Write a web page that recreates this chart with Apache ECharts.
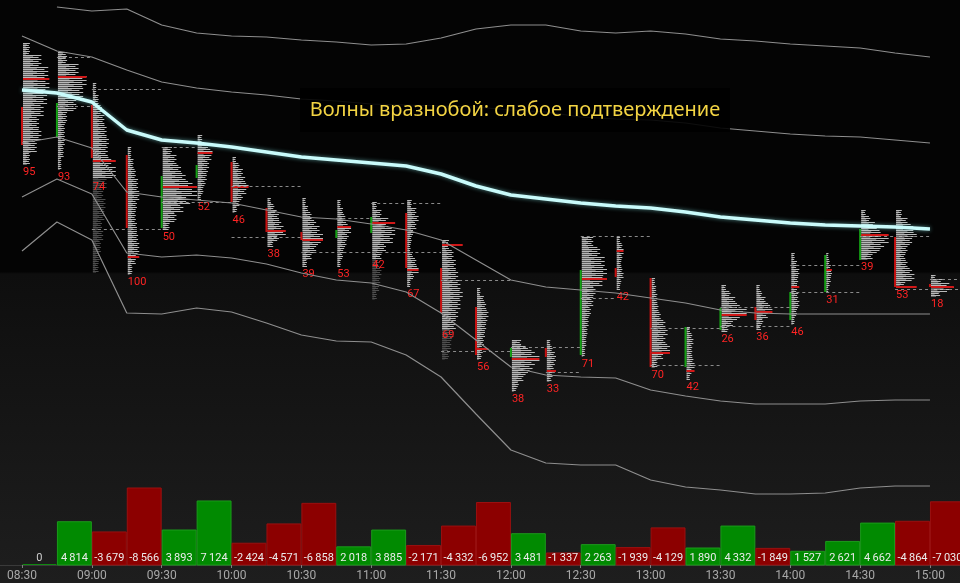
<!DOCTYPE html>
<html><head><meta charset="utf-8">
<script src="https://cdn.jsdelivr.net/npm/echarts@6/dist/echarts.min.js"></script>
<style>html,body{margin:0;padding:0;background:#000;}#c{width:960px;height:583px;}</style>
</head><body><div id="c"></div>
<script>
// ---------- DATA ----------
const slots = ['08:30','08:45','09:00','09:15','09:30','09:45','10:00','10:15','10:30','10:45','11:00','11:15','11:30','11:45','12:00','12:15','12:30','12:45','13:00','13:15','13:30','13:45','14:00','14:15','14:30','14:45','15:00'];
const timeTicks = ['08:30','09:00','09:30','10:00','10:30','11:00','11:30','12:00','12:30','13:00','13:30','14:00','14:30','15:00'];
const deltas = [0,4814,-3679,-8566,3893,7124,-2424,-4571,-6858,2018,3885,-2171,-4332,-6952,3481,-1337,2263,-1939,-4129,1890,4332,-1849,1527,2621,4662,-4864,-7030];

const vwap    = [5227.5,5226.75,5224.5,5217.5,5215,5214.25,5213.25,5212,5210.75,5210,5209.25,5208.5,5206.5,5203.5,5201.25,5200.25,5199.25,5198.5,5198,5197,5195.75,5195,5194.25,5193.75,5193.5,5193.25,5192.75];
const bandUp2 = [null,5248.25,5247.25,5247.75,5243.75,5241.75,5241,5240.75,5240,5239.5,5238.75,5239,5240.5,5242.75,5243.75,5243.75,5242.25,5241.75,5242.25,5241.5,5240.25,5239.75,5239,5238.5,5238,5236.75,5235.75];
const bandUp1 = [5241,5237.25,5235.75,5232.5,5229.5,5228,5227,5226.25,5225.25,5224.75,5224,5223.75,5223.5,5223.25,5222.5,5222,5220.75,5220.25,5220,5219.25,5218,5217.25,5216.5,5216,5215.75,5215,5214.25];
const bandDn1 = [5214.25,5215.75,5213,5202,5200.75,5200,5199.25,5197.5,5195.75,5195.25,5194,5192.5,5190,5185,5180,5178.25,5177.5,5176.75,5175.5,5174.25,5172.5,5171.75,5171.5,5171.5,5171.5,5171.5,5171.5];
const bandDn2 = [5200.75,5205.25,5201.5,5186.75,5185.75,5186.25,5185.5,5184,5181.75,5180,5179.25,5177,5171.75,5165,5158.25,5156.25,5155.75,5155.5,5152.5,5151,5149.75,5149,5149,5149,5149.75,5150,5150];
const bandDn3 = [5187.25,5194.5,5190,5171.75,5171.5,5173,5172,5169.25,5166.25,5164.75,5164.5,5161.25,5155.75,5146.5,5137.5,5134.25,5133.75,5133.75,5130,5128.25,5127.5,5126.5,5126.5,5126.75,5128,5128.5,5128.5];

const profHigh   = [5239.25,5237,5229.25,5213.25,5213.25,5216.25,5210.75,5200.5,5200.5,5200,5199.5,5200,5190,5178,5165,5165,5190.75,5190.75,5180.5,5168.25,5178.75,5178.75,5186.75,5186.75,5197.5,5197.5,5181.25];
const profLow    = [5208.75,5207.5,5205,5181.25,5192.5,5200,5196.75,5188.25,5183.25,5183.25,5185.5,5178.25,5168,5160,5152,5154.5,5160.75,5177.5,5158,5155,5167,5167.5,5168.75,5176.75,5185,5178,5175.75];
const profBottom = [null,null,5181.75,null,null,null,null,null,null,null,5175,null,5160,null,null,null,null,null,null,null,null,null,null,null,null,null,null];
const profPoc    = [5230.25,5230.75,5209.75,5185.75,5203.25,5211.75,5203.25,5192.25,5190,5193.25,5194.25,5182.5,5188.75,5162.75,5160.25,5157.25,5180.25,5187.25,5161.75,5157.25,5171.25,5172,5178.25,5182.5,5191.25,5178.25,5178.25];
const profOpen   = [5223.25,5215.75,5223.75,5211.25,5193,5205.5,5209.5,5198,5192,5190.5,5191.75,5196.75,5183,5173.25,5160.75,5163,5161.25,5183,5180.5,5158.25,5167.5,5173.25,5170,5177,5185,5190.75,5179];
const profClose  = [5213.75,5224.25,5210.5,5193,5206,5208.75,5199.5,5192,5190,5192.5,5195.75,5183,5171.75,5161.25,5163,5160.75,5182.5,5180.75,5158.25,5168.25,5173,5170,5177,5186.25,5192.75,5178.25,5178.25];
const profCount  = [95,93,74,100,50,52,46,38,39,53,42,67,69,56,38,33,71,42,70,42,26,36,46,31,39,53,18];
const profVols = [
 [6,16,22,23,21,18,14,16,12,6],
 [8,18,25,22,16,8,6,6,5,3],
 [3,5,8,10,12,14,13,16,20,12,9,11,10,8,9,7,6,5],
 [3,5,7,9,10,8,7,8,9,10,7,4],
 [8,12,16,20,26,30,24,18,12,6],
 [4,9,13,12,10,9,8,7,5,3],
 [3,6,9,11,14,12,9,6,4],
 [3,6,8,10,12,14,16,10,5],
 [3,5,8,12,15,18,16,12,8,4],
 [3,5,7,9,12,10,8,6,5,3],
 [4,8,14,20,18,12,8,6,8,7,6,4],
 [4,8,10,8,6,4,3,5,8,10,6,3],
 [6,10,12,14,16,18,16,14,12,10,8,6],
 [3,6,8,10,9,8,7,6,5,4],
 [8,14,20,24,20,18,14,10,6,4],
 [3,5,7,8,7,6,5,4],
 [10,16,20,22,18,12,10,8,6,5,4,3],
 [3,5,6,5,4,5,6,4,3],
 [3,4,5,6,8,12,14,12,16,10,5],
 [3,5,6,5,5,6,7,5,3],
 [4,8,12,16,22,16,10,6],
 [3,5,8,12,14,10,6,4],
 [3,5,7,6,5,6,7,5,3],
 [2,3,4,5,4,3,2],
 [4,8,12,16,20,24,20,16,10],
 [5,10,15,18,14,10,8,10,14,16,8],
 [4,10,16,20,14,8]
];
const vaLines = [
 [5235.75,'08:45','09:00'],[5223.5,'08:45','09:00'],[5227.75,'09:00','09:30'],[5192.75,'09:00','09:30'],
 [5213.25,'09:30','09:45'],[5199.5,'09:30','10:00'],[5203.5,'10:00','10:30'],[5190.75,'10:00','10:30'],
 [5187,'10:30','11:30'],[5195.5,'10:45','11:00'],[5199.25,'11:00','11:30'],[5180,'11:30','12:00'],
 [5162.25,'11:30','12:00'],[5163.25,'12:00','12:30'],[5157,'12:15','12:30'],[5191,'12:30','13:00'],
 [5175.5,'12:30','12:45'],[5168,'13:00','13:30'],[5158.75,'13:00','13:30'],[5173.25,'13:30','14:00'],
 [5168.5,'13:30','14:00'],[5183.75,'14:00','14:30'],[5177,'14:00','14:30'],[5191,'14:30','15:00'],
 [5177.75,'14:45','15:15'],[5180.25,'15:00','15:15']
];
const titleText = 'Волны вразнобой: слабое подтверждение';

// ---------- HELPERS ----------
function toMin(s){const p=s.split(':');return (+p[0])*60+(+p[1])-510;}
const SLOT = 15;
const XMIN = -9.45, XMAX = 402.9;
const tickMins = timeTicks.map(toMin);
function fmtNum(d){
  const s = String(Math.abs(d)).replace(/\B(?=(\d{3})+(?!\d))/g,'\u2009');
  return (d<0?'-':'')+s;
}
function lineData(arr){return slots.map((s,i)=>[toMin(s),arr[i]]);}

const chart = echarts.init(document.getElementById('c'));
const VOL_SCALE = 1.15/35;

function renderProfile(params, api){
  const i = api.value(3);
  const t0 = toMin(slots[i]);
  const vols = profVols[i];
  const hi = profHigh[i], lo = profLow[i];
  const bot = profBottom[i]==null ? lo : profBottom[i];
  const n = vols.length;
  const rowH = (hi-bot)/n;
  const x0 = api.coord([t0,hi])[0];
  const slotPx = api.coord([t0+SLOT,hi])[0]-x0;
  const children = [];
  let stripe = 0;
  for(let k=0;k<n;k++){
    const pTop = hi-k*rowH, pBot = hi-(k+1)*rowH;
    const yTop = api.coord([t0,pTop])[1], yBot = api.coord([t0,pBot])[1];
    const w = vols[k]*VOL_SCALE*slotPx;
    const dim = (pTop+pBot)/2 < lo;
    for(let y=Math.round(yTop); y<Math.round(yBot); y++){
      const m = stripe%4;
      const f = m===0?1:(m===1?0.55:(m===2?0.85:0.4));
      let col;
      if(dim) col = (m%2===0)?'#4e4e4e':'#2c2c2c';
      else col = (m%2===0)?'#b9b9b9':'#5e5e5e';
      children.push({type:'rect',shape:{x:x0+1,y:y,width:Math.max(1,w*f),height:1},style:{fill:col}});
      stripe++;
    }
  }
  const maxV = Math.max.apply(null,vols);
  const yPoc = api.coord([t0,profPoc[i]])[1];
  children.push({type:'rect',shape:{x:x0+1,y:yPoc-1,width:maxV*VOL_SCALE*slotPx,height:2},style:{fill:'#d01818'}});
  const yo = api.coord([t0,profOpen[i]])[1], yc = api.coord([t0,profClose[i]])[1];
  const up = profClose[i] > profOpen[i];
  children.push({type:'rect',shape:{x:x0-1,y:Math.min(yo,yc),width:2,height:Math.max(1,Math.abs(yo-yc))},style:{fill:up?'#14a014':'#c81010'}});
  const yl = api.coord([t0,lo])[1];
  children.push({type:'text',x:x0+1,y:yl+2,style:{text:String(profCount[i]),fill:'#ff2424',font:'11px Roboto, "DejaVu Sans", sans-serif',align:'left',verticalAlign:'top'}});
  return {type:'group',children};
}

function renderVA(params, api){
  const p = api.value(0), a = api.value(1), b = api.value(2);
  const s = api.coord([a,p]), e = api.coord([b,p]);
  return {type:'line',shape:{x1:s[0],y1:Math.round(s[1])+0.5,x2:e[0],y2:Math.round(s[1])+0.5},style:{stroke:'#8a8a8a',lineWidth:1,lineDash:[3,3]}};
}

function renderBar(params, api){
  const t = api.value(0), v = api.value(1), d = api.value(2);
  const b0 = api.coord([t,0]), b1 = api.coord([t+SLOT,0]);
  const top = api.coord([t,v])[1];
  const x0 = b0[0]+0.5, x1 = b1[0]-0.5;
  const col = d>0 ? '#018a01' : (d<0 ? '#8c0000' : '#118811');
  const children = [];
  if(v>0){
    children.push({type:'rect',shape:{x:x0,y:top,width:x1-x0,height:b0[1]-top},style:{fill:col,stroke:d>0?'#1c9a1c':'#9a1010',lineWidth:1}});
  } else {
    children.push({type:'rect',shape:{x:x0,y:b0[1]-1,width:x1-x0,height:1},style:{fill:col}});
  }
  children.push({type:'text',x:(x0+x1)/2,y:b0[1]-7,style:{text:fmtNum(d),fill:d===0?'#cfcfcf':'#ececec',font:'11px Roboto, "DejaVu Sans", sans-serif',align:'center',verticalAlign:'middle'}});
  return {type:'group',children};
}

const grayLine = (name,arr)=>({name,type:'line',xAxisIndex:0,yAxisIndex:0,data:lineData(arr),showSymbol:false,symbol:'none',z:4,
  lineStyle:{color:'#8e8e8e',width:1.2},silent:true});

const option = {
  animation:false,
  backgroundColor:{type:'linear',x:0,y:0,x2:0,y2:1,colorStops:[
    {offset:0,color:'#040404'},{offset:0.466,color:'#040404'},{offset:0.47,color:'#0e0e0e'},{offset:1,color:'#1e1e1e'}]},
  grid:[{left:0,right:0,top:0,bottom:18},{left:0,right:0,top:480,bottom:18}],
  xAxis:[
    {type:'value',gridIndex:0,min:XMIN,max:XMAX,show:false},
    {type:'value',gridIndex:1,min:XMIN,max:XMAX,
     axisLine:{show:true,lineStyle:{color:'#3a3a3a'}},
     axisTick:{show:true,customValues:tickMins,length:3,lineStyle:{color:'#808080'}},
     axisLabel:{customValues:tickMins,formatter:v=>timeTicks[tickMins.indexOf(Math.round(v))]||'',color:'#a8a8a8',fontSize:12,fontFamily:'Roboto',margin:5},
     splitLine:{show:false}}
  ],
  yAxis:[
    {type:'value',gridIndex:0,min:5108.75,max:5250,show:false},
    {type:'value',gridIndex:1,min:0,max:9455,show:false}
  ],
  series:[
    {type:'custom',xAxisIndex:0,yAxisIndex:0,z:2,renderItem:renderProfile,clip:true,
     data:slots.map((s,i)=>[toMin(s),profHigh[i],profLow[i],i])},
    {type:'custom',xAxisIndex:0,yAxisIndex:0,z:3,renderItem:renderVA,clip:true,
     data:vaLines.map(v=>[v[0],toMin(v[1]),toMin(v[2])])},
    grayLine('+2σ',bandUp2),grayLine('+1σ',bandUp1),grayLine('-1σ',bandDn1),grayLine('-2σ',bandDn2),grayLine('-3σ',bandDn3),
    {name:'VWAP',type:'line',xAxisIndex:0,yAxisIndex:0,data:lineData(vwap),showSymbol:false,symbol:'none',z:6,
     lineStyle:{color:'#c9fbfb',width:3.5,shadowColor:'rgba(150,255,255,0.5)',shadowBlur:4}},
    {type:'custom',xAxisIndex:1,yAxisIndex:1,z:2,renderItem:renderBar,clip:false,
     data:deltas.map((d,i)=>[toMin(slots[i]),Math.abs(d),d])}
  ],
  graphic:[
    {type:'rect',z:100,shape:{x:300,y:88,width:430,height:44},style:{fill:'rgba(0,0,0,0.9)'}},
    {type:'text',z:101,x:515,y:110,style:{text:titleText,fill:'#f3d443',font:'20px "Noto Sans", sans-serif',align:'center',verticalAlign:'middle'}}
  ]
};
chart.setOption(option);
</script>
</body></html>
